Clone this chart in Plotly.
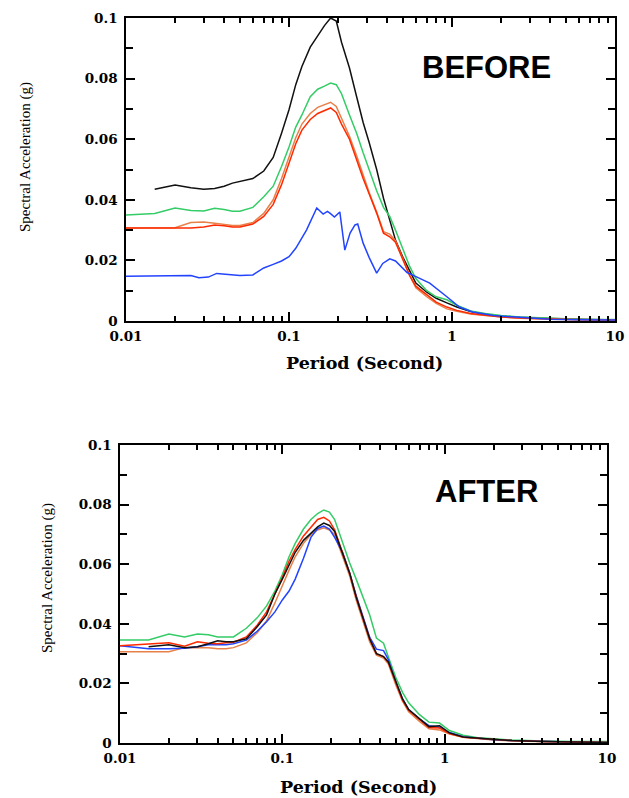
import plotly.graph_objects as go

# ---------------- DATA ----------------
period_before = [0.01, 0.015, 0.02, 0.025, 0.03, 0.035, 0.04, 0.045, 0.05, 0.06, 0.07, 0.08, 0.09,
                 0.1, 0.11, 0.12, 0.135, 0.15, 0.165, 0.18, 0.195, 0.21, 0.235, 0.26, 0.285, 0.31,
                 0.345, 0.38, 0.415, 0.45, 0.5, 0.55, 0.6, 0.7, 0.8, 0.93, 1.07, 1.3, 1.6, 2.0, 2.6,
                 4.0, 6.0, 10.0]

black_before = [None, 0.0435, 0.0449, 0.0440, 0.0435, 0.0437, 0.0445, 0.0455, 0.0460, 0.0470, 0.0495,
                0.0540, 0.0620, 0.0697, 0.0780, 0.0840, 0.0904, 0.0940, 0.0975, 0.1000, 0.0990, 0.0920,
                0.0835, 0.0740, 0.0655, 0.0590, 0.0500, 0.0405, 0.0333, 0.0267, 0.0210, 0.0168, 0.0125,
                0.0095, 0.0075, 0.0060, 0.0046, 0.0031, 0.0022, 0.0016, 0.0012, 0.0008, 0.0005, 0.0003]

green_before = [0.0350, 0.0355, 0.0373, 0.0365, 0.0363, 0.0372, 0.0368, 0.0362, 0.0362, 0.0375, 0.0410,
                0.0445, 0.0510, 0.0574, 0.0640, 0.0680, 0.0740, 0.0765, 0.0775, 0.0785, 0.0780, 0.0750,
                0.0680, 0.0620, 0.0555, 0.0500, 0.0430, 0.0375, 0.0345, 0.0300, 0.0234, 0.0180, 0.0140,
                0.0100, 0.0080, 0.0070, 0.0052, 0.0033, 0.0025, 0.0018, 0.0013, 0.0009, 0.0006, 0.0005]

red_before = [0.0307, 0.0307, 0.0307, 0.0307, 0.0310, 0.0317, 0.0314, 0.0310, 0.0310, 0.0320, 0.0345,
              0.0385, 0.0450, 0.0520, 0.0585, 0.0630, 0.0665, 0.0685, 0.0695, 0.0703, 0.0688, 0.0650,
              0.0600, 0.0530, 0.0470, 0.0420, 0.0356, 0.0290, 0.0278, 0.0260, 0.0200, 0.0150, 0.0115,
              0.0085, 0.0062, 0.0046, 0.0035, 0.0025, 0.0019, 0.0013, 0.0010, 0.0006, 0.0004, 0.0003]

coral_before = [0.0307, 0.0307, 0.0308, 0.0325, 0.0327, 0.0323, 0.0318, 0.0315, 0.0315, 0.0325, 0.0355,
                0.0400, 0.0470, 0.0545, 0.0605, 0.0650, 0.0685, 0.0705, 0.0715, 0.0722, 0.0708, 0.0670,
                0.0610, 0.0545, 0.0480, 0.0425, 0.0360, 0.0295, 0.0287, 0.0265, 0.0205, 0.0150, 0.0110,
                0.0080, 0.0058, 0.0040, 0.0032, 0.0023, 0.0018, 0.0013, 0.0009, 0.0006, 0.0004, 0.0003]

period_blue_before = [0.01, 0.02, 0.025, 0.028, 0.032, 0.036, 0.04, 0.05, 0.06, 0.07, 0.08, 0.09, 0.1,
                      0.11, 0.128, 0.14, 0.148, 0.162, 0.172, 0.179, 0.19, 0.205, 0.22, 0.237, 0.254,
                      0.264, 0.285, 0.31, 0.345, 0.376, 0.415, 0.45, 0.53, 0.61, 0.73, 0.93, 1.11, 1.34,
                      1.8, 2.6, 4.0, 6.0, 10.0]
blue_before = [0.0148, 0.0148, 0.0150, 0.0143, 0.0145, 0.0157, 0.0155, 0.0150, 0.0152, 0.0175, 0.0187,
               0.0198, 0.0212, 0.0240, 0.0300, 0.0345, 0.0373, 0.0353, 0.0362, 0.0355, 0.0343, 0.0360,
               0.0234, 0.0290, 0.0317, 0.0320, 0.0257, 0.0210, 0.0158, 0.0190, 0.0205, 0.0198, 0.0160,
               0.0145, 0.0125, 0.0080, 0.0046, 0.0030, 0.0018, 0.0012, 0.0006, 0.0004, 0.0003]

period_after = [0.01, 0.015, 0.02, 0.025, 0.03, 0.035, 0.04, 0.045, 0.05, 0.06, 0.07, 0.08, 0.09,
                0.1, 0.11, 0.12, 0.135, 0.15, 0.165, 0.18, 0.195, 0.21, 0.235, 0.26, 0.285, 0.31,
                0.345, 0.38, 0.42, 0.45, 0.5, 0.55, 0.6, 0.7, 0.8, 0.93, 1.07, 1.3, 1.6, 2.0, 2.6,
                4.0, 6.0, 10.0]

green_after = [0.0346, 0.0346, 0.0366, 0.0356, 0.0366, 0.0363, 0.0356, 0.0356, 0.0356, 0.0385, 0.0420,
               0.0460, 0.0510, 0.0565, 0.0625, 0.0670, 0.0718, 0.0750, 0.0770, 0.0782, 0.0775, 0.0750,
               0.0670, 0.0604, 0.0550, 0.0495, 0.0430, 0.0352, 0.0335, 0.0289, 0.0220, 0.0170, 0.0135,
               0.0095, 0.0070, 0.0067, 0.0042, 0.0026, 0.0018, 0.0014, 0.0010, 0.0007, 0.0005, 0.0005]

red_after = [0.0326, 0.0333, 0.0336, 0.0325, 0.0340, 0.0335, 0.0333, 0.0336, 0.0338, 0.0356, 0.0395,
             0.0440, 0.0500, 0.0555, 0.0610, 0.0650, 0.0695, 0.0725, 0.0750, 0.0757, 0.0745, 0.0715,
             0.0640, 0.0570, 0.0490, 0.0430, 0.0350, 0.0300, 0.0290, 0.0270, 0.0200, 0.0144, 0.0110,
             0.0078, 0.0052, 0.0050, 0.0032, 0.0019, 0.0015, 0.0011, 0.0008, 0.0005, 0.0003, 0.0002]

black_after = [None, 0.0323, 0.0330, 0.0320, 0.0323, 0.0333, 0.0343, 0.0340, 0.0340, 0.0350, 0.0390,
               0.0430, 0.0500, 0.0550, 0.0595, 0.0640, 0.0680, 0.0705, 0.0725, 0.0738, 0.0730, 0.0710,
               0.0640, 0.0570, 0.0490, 0.0430, 0.0350, 0.0300, 0.0290, 0.0272, 0.0205, 0.0148, 0.0112,
               0.0080, 0.0055, 0.0058, 0.0034, 0.0020, 0.0016, 0.0012, 0.0008, 0.0005, 0.0003, 0.0002]

blue_after = [0.0326, 0.0316, 0.0316, 0.0318, 0.0323, 0.0330, 0.0330, 0.0330, 0.0333, 0.0345, 0.0375,
              0.0407, 0.0440, 0.0480, 0.0510, 0.0550, 0.0620, 0.0690, 0.0720, 0.0728, 0.0718, 0.0690,
              0.0640, 0.0570, 0.0495, 0.0435, 0.0355, 0.0315, 0.0310, 0.0280, 0.0205, 0.0148, 0.0112,
              0.0080, 0.0058, 0.0053, 0.0035, 0.0021, 0.0015, 0.0011, 0.0008, 0.0005, 0.0003, 0.0002]

coral_after = [0.0306, 0.0306, 0.0306, 0.0320, 0.0320, 0.0320, 0.0316, 0.0316, 0.0320, 0.0336, 0.0370,
               0.0410, 0.0470, 0.0530, 0.0580, 0.0625, 0.0670, 0.0700, 0.0715, 0.0722, 0.0715, 0.0700,
               0.0630, 0.0560, 0.0480, 0.0420, 0.0340, 0.0295, 0.0285, 0.0265, 0.0195, 0.0140, 0.0105,
               0.0072, 0.0048, 0.0044, 0.0030, 0.0019, 0.0014, 0.0010, 0.0007, 0.0004, 0.0003, 0.0002]

x_tick_vals = [0.01, 0.1, 1, 10]
x_tick_text = ["0.01", "0.1", "1", "10"]
y_tick_vals = [0, 0.02, 0.04, 0.06, 0.08, 0.1]
y_tick_text = ["0", "0.02", "0.04", "0.06", "0.08", "0.1"]
y_minor_vals = [0.01, 0.03, 0.05, 0.07, 0.09]
x_minor_vals = [m * d for d in (0.01, 0.1, 1) for m in range(2, 10)]

x_title = "Period (Second)"
y_title = "Spectral Acceleration (g)"
panel_labels = ["BEFORE", "AFTER"]

# ---------------- STYLE ----------------
C_BLACK = "#111111"
C_GREEN = "#33cc66"
C_RED = "#ff2a00"
C_CORAL = "#e8804a"
C_BLUE = "#2244ff"
LW = 1.5

W, H = 629, 798
fig = go.Figure()

def add(x, y, color, xa, ya):
    fig.add_trace(go.Scatter(x=x, y=y, mode="lines", line=dict(color=color, width=LW),
                             xaxis=xa, yaxis=ya, showlegend=False, connectgaps=False))

# Before panel
add(period_before, black_before, C_BLACK, "x", "y")
add(period_before, green_before, C_GREEN, "x", "y")
add(period_before, coral_before, C_CORAL, "x", "y")
add(period_before, red_before, C_RED, "x", "y")
add(period_blue_before, blue_before, C_BLUE, "x", "y")

# After panel
add(period_after, green_after, C_GREEN, "x2", "y2")
add(period_after, coral_after, C_CORAL, "x2", "y2")
add(period_after, blue_after, C_BLUE, "x2", "y2")
add(period_after, red_after, C_RED, "x2", "y2")
add(period_after, black_after, C_BLACK, "x2", "y2")

tickfont = dict(family="DejaVu Serif", size=13.5, color="black", weight="bold")

def xaxis(domain, anchor):
    return dict(domain=domain, anchor=anchor, type="log", range=[-2, 1], automargin=False,
                tickmode="array", tickvals=x_tick_vals, ticktext=x_tick_text,
                ticks="inside", ticklen=9, tickwidth=1.5, tickcolor="black",
                minor=dict(tickmode="array", tickvals=x_minor_vals, ticks="inside",
                           ticklen=5, tickwidth=1.5, tickcolor="black", showgrid=False),
                showline=True, linecolor="black", linewidth=1.5, mirror="ticks",
                showgrid=False, zeroline=False, tickfont=tickfont, ticklabelstandoff=2)

def yaxis(domain, anchor):
    return dict(domain=domain, anchor=anchor, range=[0, 0.1], automargin=False,
                tickmode="array", tickvals=y_tick_vals, ticktext=y_tick_text,
                ticks="inside", ticklen=9, tickwidth=1.5, tickcolor="black",
                minor=dict(tickmode="array", tickvals=y_minor_vals, ticks="inside",
                           ticklen=7, tickwidth=1.5, tickcolor="black", showgrid=False),
                showline=True, linecolor="black", linewidth=1.5, mirror="ticks",
                showgrid=False, zeroline=False, tickfont=tickfont, ticklabelstandoff=4)

top_px = (18, 321, 126, 615)
bot_px = (445, 743, 120, 607)

def ydom(t, b):
    return [1 - b / H, 1 - t / H]

def xdom(l, r):
    return [l / W, r / W]

fig.update_layout(
    width=W, height=H,
    margin=dict(l=0, r=0, t=0, b=0, autoexpand=False),
    paper_bgcolor="white", plot_bgcolor="white",
    xaxis=xaxis(xdom(top_px[2], top_px[3]), "y"),
    yaxis=yaxis(ydom(top_px[0], top_px[1]), "x"),
    xaxis2=xaxis(xdom(bot_px[2], bot_px[3]), "y2"),
    yaxis2=yaxis(ydom(bot_px[0], bot_px[1]), "x2"),
)

ann = []
# x-axis titles
for (cx, cy) in [(364, 363), (358, 787)]:
    ann.append(dict(text=x_title, x=cx / W, y=1 - cy / H, xref="paper", yref="paper",
                    xanchor="center", yanchor="middle", showarrow=False,
                    font=dict(family="DejaVu Serif", size=17.5, color="black", weight="bold")))
# y-axis titles
for (cx, cy) in [(26, 157), (47, 578)]:
    ann.append(dict(text=y_title, x=cx / W, y=1 - cy / H, xref="paper", yref="paper",
                    xanchor="center", yanchor="middle", showarrow=False, textangle=-90,
                    font=dict(family="Liberation Serif", size=15, color="black")))
# panel labels
for label, (cx, cy) in zip(panel_labels, [(486, 67), (486, 491)]):
    ann.append(dict(text=label, x=cx / W, y=1 - cy / H, xref="paper", yref="paper",
                    xanchor="center", yanchor="middle", showarrow=False,
                    font=dict(family="Liberation Sans", size=31, color="black", weight="bold")))
fig.update_layout(annotations=ann)

fig.write_html("out.html", config={"displayModeBar": False},
               post_script="document.body.style.margin='0';document.body.style.overflow='hidden';")
